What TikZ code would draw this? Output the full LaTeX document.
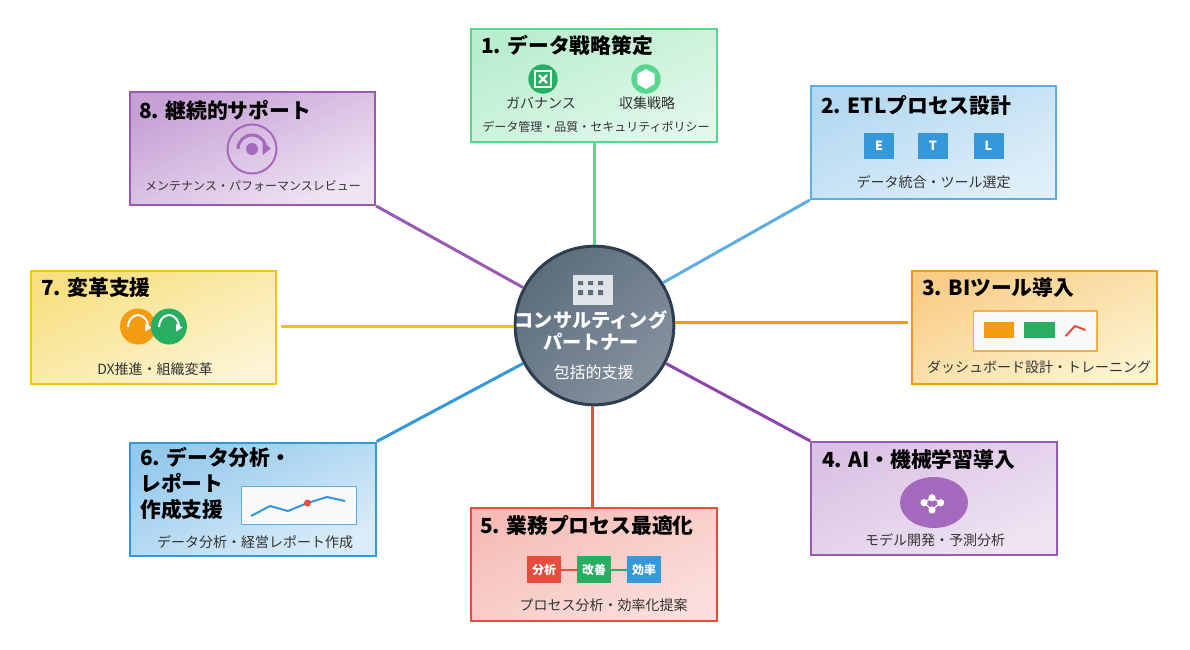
\documentclass[tikz,border=0pt]{standalone}
\usepackage{fontspec}
\setmainfont{Noto Sans CJK JP}
\usepackage{tikz}

\definecolor{cGreen}{HTML}{58D68D}
\definecolor{cDeep}{HTML}{27AE60}
\definecolor{cSky}{HTML}{5DADE2}
\definecolor{cBlue}{HTML}{3498DB}
\definecolor{cOrange}{HTML}{F39C12}
\definecolor{cYellow}{HTML}{F1C40F}
\definecolor{cRed}{HTML}{E74C3C}
\definecolor{cPurple}{HTML}{9B59B6}
\definecolor{cViolet}{HTML}{8E44AD}
\definecolor{cIcon}{HTML}{A569BD}
\definecolor{cPanel}{HTML}{F8F9FA}
\definecolor{cNavy}{HTML}{2C3E50}
\definecolor{cHubA}{HTML}{5D6D7E}
\definecolor{cHubB}{HTML}{85929E}

\tikzset{
  phasebox/.style={draw,line width=1.5pt,inner sep=0pt,minimum width=184pt,minimum height=84.75pt},
  tilted/.style={shading angle=25},
  titletext/.style={anchor=west,inner sep=0pt,align=left,text=black,font=\bfseries\fontsize{15.6}{19.5}\selectfont},
  subtext/.style={inner sep=0pt,text=black!80,font=\fontsize{10.5}{12}\selectfont},
  smalltext/.style={inner sep=0pt,text=black!80,font=\fontsize{9}{11}\selectfont},
  etlbox/.style={fill=cBlue,text=white,inner sep=0pt,minimum width=22.5pt,minimum height=19.5pt,font=\bfseries\fontsize{9.5}{11}\selectfont},
  flowbox/.style={text=white,inner sep=0pt,minimum width=25.5pt,minimum height=20pt,font=\bfseries\fontsize{9}{11}\selectfont},
  spoke/.style={line width=2.25pt},
}

\begin{document}
\begin{tikzpicture}[x=0.75pt,y=-0.75pt]
\useasboundingbox (0,0) rectangle (1190,650);

% hub
\node[circle,draw=cNavy,line width=2.25pt,minimum size=119pt,inner sep=0pt,top color=cHubA,bottom color=cHubB,shading angle=45] (hub) at (594.5,325.5) {};
\fill[white,opacity=0.8] (573,275) rectangle (613,305);
\fill[cHubA] (578,281) rectangle (583,285) (588,281) rectangle (593,285) (598,281) rectangle (603,285);
\fill[cHubA] (578,290) rectangle (583,295) (588,290) rectangle (593,295) (598,290) rectangle (603,295);
\node[inner sep=0pt,text=white,font=\bfseries\fontsize{14.4}{16.5}\selectfont,align=center] (hubname) at (591,331) {コンサルティング\\パートナー};
\node[inner sep=0pt,text=white,font=\fontsize{12}{14}\selectfont] (hubsub) at (593.5,372) {包括的支援};

% phase boxes
\node[phasebox,draw=cGreen,top color=cGreen!42!white,bottom color=cGreen!18!white,tilted] (box1) at (594,85) {};
\node[phasebox,draw=cSky,top color=cSky!47!white,bottom color=cSky!20!white,tilted] (box2) at (933.5,142.5) {};
\node[phasebox,draw=cOrange,top color=cOrange!50!white,bottom color=cYellow!20!white,tilted] (box3) at (1034.5,327) {};
\node[phasebox,draw=cPurple,top color=cPurple!37!white,bottom color=cPurple!16!white,tilted] (box4) at (934,498.5) {};
\node[phasebox,draw=cRed,top color=cRed!37!white,bottom color=cRed!18!white,tilted] (box5) at (594,564.5) {};
\node[phasebox,draw=cBlue,top color=cBlue!52!white,bottom color=cBlue!18!white,tilted] (box6) at (253,499) {};
\node[phasebox,draw=cYellow,top color=cYellow!52!white,bottom color=cYellow!18!white,tilted] (box7) at (153.5,327) {};
\node[phasebox,draw=cPurple,top color=cPurple!57!white,bottom color=cPurple!16!white,tilted] (box8) at (252.5,148.5) {};

% spokes
\coordinate (end3) at (908,322.7);
\coordinate (end5) at (592.5,508);
\coordinate (end7) at (281,326.5);
\draw[spoke,cGreen] (box1.south) -- (box1.south |- hub.north);
\draw[spoke,cSky] (hub.32) -- (box2.south west);
\draw[spoke,cOrange] (hub.east |- end3) -- (end3);
\draw[spoke,cViolet] (hub.-28) -- (box4.north west);
\draw[spoke,cRed] (end5 |- hub.south) -- (end5);
\draw[spoke,cBlue] (hub.208) -- (box6.north east);
\draw[spoke,cYellow] (hub.west |- end7) -- (end7);
\draw[spoke,cPurple] (hub.152) -- (box8.south east);

% 1
\node[titletext] (title1) at (481,45) {1. データ戦略策定};
\fill[cDeep] (543,79) circle[radius=14.7];
\draw[white,line width=1.5pt] (535,71) rectangle (551,87);
\draw[white,line width=1.6pt] (539,75) -- (547,83) (547,75) -- (539,83);
\fill[cGreen] (646,79) circle[radius=14.7];
\fill[white] (646,69) -- (654.7,74) -- (654.7,84) -- (646,89) -- (637.3,84) -- (637.3,74) -- cycle;
\node[subtext] (gov) at (541,103) {ガバナンス};
\node[subtext] (collect) at (647,103) {収集戦略};
\node[smalltext] (sub1) at (596,127) {データ管理・品質・セキュリティポリシー};

% 2
\node[titletext] (title2) at (821,105) {2. ETLプロセス設計};
\node[etlbox] (etlE) at (879,146) {E};
\node[etlbox] (etlT) at (933,146) {T};
\node[etlbox] (etlL) at (988.5,146) {L};
\node[subtext] (sub2) at (933.5,182) {データ統合・ツール選定};

% 3
\node[titletext] (title3) at (922,288) {3. BIツール導入};
\filldraw[fill=cPanel,draw=cOrange!80!white,line width=0.9pt] (973.5,311) rectangle (1097,351);
\fill[cOrange] (984,322) rectangle (1014,338);
\fill[cDeep] (1024,322) rectangle (1055,338);
\draw[cRed,line width=1.5pt] (1065.7,336) -- (1075,326) -- (1085.5,330);
\node[subtext] (sub3) at (1039,367) {ダッシュボード設計・トレーニング};

% 4
\node[titletext] (title4) at (822,460) {4. AI・機械学習導入};
\fill[cIcon] (934,502.5) ellipse[x radius=34,y radius=25.5];
\draw[white,line width=0.9pt] (924,502.7) -- (932,497.7) -- (940.7,502.7) -- (932,510) -- cycle;
\fill[white] (924,502.7) circle[radius=3.6] (932,497.7) circle[radius=3.6] (940.7,502.7) circle[radius=3.6] (932,510) circle[radius=3.6];
\node[subtext] (sub4) at (935,540) {モデル開発・予測分析};

% 5
\node[titletext] (title5) at (480,525) {5. 業務プロセス最適化};
\node[flowbox,fill=cRed] (step1) at (544,569.5) {分析};
\node[flowbox,fill=cDeep] (step2) at (594,569.5) {改善};
\node[flowbox,fill=cBlue] (step3) at (644,569.5) {効率};
\draw[cRed,line width=1.5pt] (step1) -- (step2);
\draw[cDeep,line width=1.5pt] (step2) -- (step3);
\node[subtext] (sub5) at (603.5,605) {プロセス分析・効率化提案};

% 6
\node[titletext] (title6) at (140,484) {6. データ分析・\\レポート\\作成支援};
\filldraw[fill=cPanel,draw=cSky,line width=0.75pt] (241.5,486) rectangle (356,524);
\draw[cBlue,line width=1.5pt] (251,516) -- (270,506) -- (288,511) -- (307.5,503) -- (327,497) -- (345,501);
\fill[cRed] (307.5,503) circle[radius=3.5];
\node[subtext] (sub6) at (255,542) {データ分析・経営レポート作成};

% 7
\node[titletext] (title7) at (41,288) {7. 変革支援};
\fill[cOrange] (138,326.5) circle[radius=18];
\draw[white,line width=1.5pt] (128,327) arc[start angle=180,end angle=360,x radius=10,y radius=12];
\fill[white] (145,324) -- (151.5,327.5) -- (145,331.5) -- cycle;
\fill[cDeep] (169,326.5) circle[radius=18];
\draw[white,line width=1.5pt] (159,327) arc[start angle=180,end angle=360,x radius=10,y radius=12];
\fill[white] (176,324) -- (182.5,327.5) -- (176,331.5) -- cycle;
\node[subtext] (sub7) at (155,369) {DX推進・組織変革};

% 8
\node[titletext] (title8) at (139,110) {8. 継続的サポート};
\draw[cIcon,line width=1.5pt] (252,149) circle[radius=24.5];
\fill[cIcon] (252,149) circle[radius=6];
\draw[cIcon,line width=2.25pt] (238,149) arc[start angle=180,end angle=340,radius=14];
\fill[cIcon] (262.7,141) -- (270.7,148.5) -- (262.7,155) -- cycle;
\node[smalltext] (sub8) at (253,186) {メンテナンス・パフォーマンスレビュー};
\end{tikzpicture}
\end{document}
